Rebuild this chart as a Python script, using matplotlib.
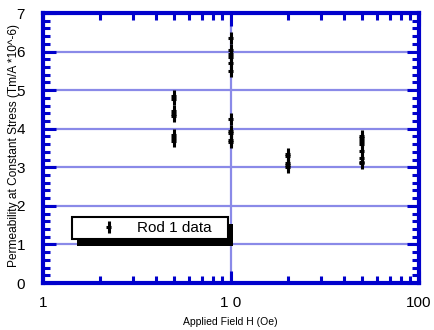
import matplotlib
matplotlib.use('Agg')
from matplotlib import pyplot as plt
from matplotlib.path import Path
from matplotlib.patches import Rectangle
from matplotlib.ticker import FixedLocator, NullFormatter

plt.rcParams['font.family'] = ['Liberation Sans', 'DejaVu Sans']

# applied field (Oe) and permeability (Tm/A *10^-6)
field_5 = [5, 5, 5, 5, 5, 5, 5, 5]
perm_5 = [4.85, 4.78, 4.45, 4.38, 4.32, 3.85, 3.75, 3.68]
field_10 = [10, 10, 10, 10, 10, 10, 10, 10, 10, 10, 10]
perm_10 = [6.35, 6.05, 5.95, 5.85, 5.7, 5.5, 4.25, 3.95, 3.9, 3.7, 3.65]
field_20 = [20, 20, 20, 20, 20]
perm_20 = [3.35, 3.28, 3.1, 3.05, 3.0]
field_50 = [50, 50, 50, 50, 50, 50, 50, 50]
perm_50 = [3.82, 3.75, 3.68, 3.6, 3.42, 3.25, 3.15, 3.1]

xs = field_5 + field_10 + field_20 + field_50
ys = perm_5 + perm_10 + perm_20 + perm_50

blue = '#0000cc'
grid_blue = '#8a8ae8'

# little cross: long vertical stem, short horizontal bar
cross = Path([(0, -1), (0, 1), (-0.55, 0), (0.35, 0)],
             [Path.MOVETO, Path.LINETO, Path.MOVETO, Path.LINETO])

fig = plt.figure(figsize=(4.35, 3.30), dpi=100)
ax = fig.add_axes([0.099, 0.1424, 0.864, 0.8182])

ax.plot(xs, ys, linestyle='none', marker=cross, markersize=9,
        markeredgewidth=2.2, color='black', label='Rod 1 data', zorder=4)

ax.set_xscale('log')
ax.set_xlim(1, 100)
ax.set_ylim(0, 7)

ax.xaxis.set_major_locator(FixedLocator([1, 10, 100]))
ax.xaxis.set_minor_locator(FixedLocator([2, 3, 4, 5, 6, 7, 8, 9,
                                         20, 30, 40, 50, 60, 70, 80, 90]))
ax.xaxis.set_minor_formatter(NullFormatter())
ax.set_xticklabels(['1', '1 0', '100'])
ax.yaxis.set_major_locator(FixedLocator(range(0, 8)))
ax.yaxis.set_minor_locator(FixedLocator([i / 5 for i in range(36)]))

ax.tick_params(which='both', direction='in', top=True, right=True,
               color=blue, labelsize=11)
ax.tick_params(which='major', length=9, width=2.2)
ax.tick_params(which='minor', length=5, width=2.2)
ax.tick_params(axis='x', pad=9)
ax.tick_params(axis='y', pad=13)

for s in ax.spines.values():
    s.set_color(blue)
    s.set_linewidth(3)

ax.grid(True, which='major', color=grid_blue, linewidth=1.6)
ax.set_axisbelow(True)

ax.set_xlabel('Applied Field H (Oe)', fontsize=7.5)
ax.xaxis.set_label_coords(0.497, -0.127)
ax.set_ylabel('Permeability at Constant Stress (Tm/A *10^-6)', fontsize=8.6)
ax.yaxis.set_label_coords(-0.062, 0.51)

leg = ax.legend(loc='lower left', bbox_to_anchor=(0.077, 0.163, 0.415, 0.089),
                mode='expand', borderaxespad=0, fontsize=11, fancybox=False,
                framealpha=1, edgecolor='black', borderpad=0.25,
                handlelength=4.4, handletextpad=-0.4)
leg.get_frame().set_linewidth(1.5)
leg.set_zorder(10)

# hard drop shadow under the legend box
fig.canvas.draw()
bb = leg.get_window_extent().transformed(fig.transFigure.inverted())
dx, dy = 5 / 435, 7 / 330
shadow = Rectangle((bb.x0 + dx, bb.y0 - dy), bb.width, bb.height,
                   transform=fig.transFigure, facecolor='black',
                   edgecolor='none', zorder=9)
ax.add_artist(shadow)

fig.savefig('out.png', dpi=100)
